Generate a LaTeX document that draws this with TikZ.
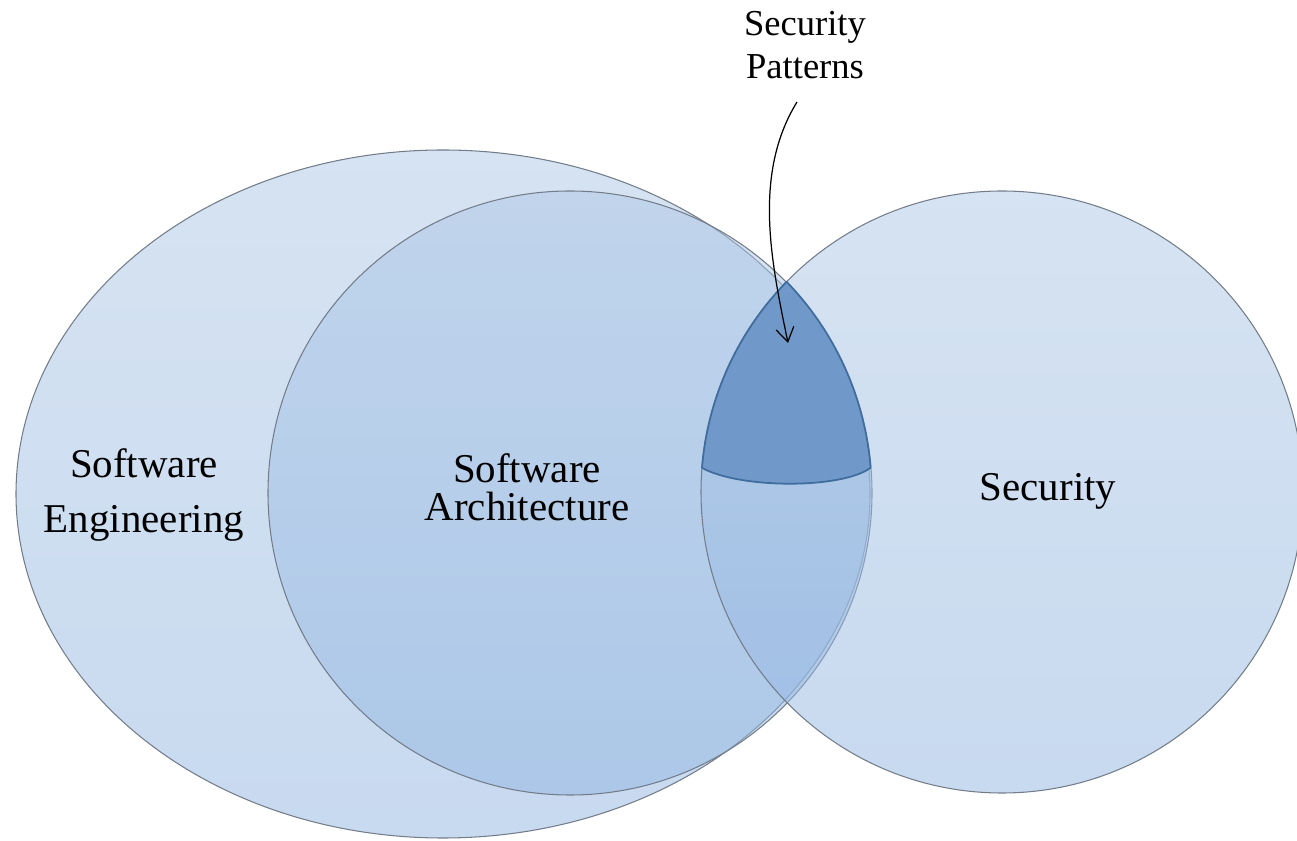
\documentclass[tikz,border=0pt]{standalone}
\usepackage{fontspec}
\setmainfont{Liberation Serif}
\usetikzlibrary{arrows.meta,calc}
\definecolor{blueA}{RGB}{173,199,229}
\definecolor{blueB}{RGB}{145,181,225}
\definecolor{edgegray}{RGB}{115,125,138}
\definecolor{hifill}{RGB}{112,153,201}
\definecolor{histroke}{RGB}{64,108,158}
\begin{document}
\begin{tikzpicture}[x=0.02cm,y=0.02cm,
  venn/.style={draw=edgegray, line width=0.6pt, top color=blueA, bottom color=blueB, fill opacity=0.5},
  hl/.style={fill=hifill, draw=histroke, line width=1pt, line join=round},
  lbl/.style={inner sep=0pt, align=center, text=black},
  pointer/.style={draw=black, line width=0.7pt, -{Straight Barb[length=0.28cm, width=0.36cm]}}]
\useasboundingbox (0,0) rectangle (1297,841);
% circles
\shade[venn] (443,347) ellipse [x radius=427, y radius=344];
\shade[venn] (570,348) circle [radius=302];
\shade[venn] (1002,349) circle [radius=301];
% highlighted region
\coordinate (hlstart) at ($(1002,349)+(175.4:301)$);
\path[hl] (hlstart) arc[start angle=175.4, end angle=135.7, radius=301]
  arc[start angle=44.06, end angle=4.56, radius=302]
  .. controls (842,352) and (740,352) .. (hlstart) -- cycle;
% labels
\node[lbl, font=\fontsize{23.3}{31.3}\selectfont] (se) at (144,346) {Software\\Engineering};
\node[lbl, font=\fontsize{23.3}{21.6}\selectfont] (sa) at (527,354) {Software\\Architecture};
\node[lbl, font=\fontsize{23.3}{28}\selectfont] (sec) at (1048,350) {Security};
\node[lbl, font=\fontsize{20.8}{24.5}\selectfont] (sp) at (805,796) {Security\\Patterns};
% arrow
\coordinate (as) at (797,739);
\coordinate (at) at (788,498);
\draw[pointer] (as) .. controls (752,666) and (772,576) .. (at);
\end{tikzpicture}
\end{document}
